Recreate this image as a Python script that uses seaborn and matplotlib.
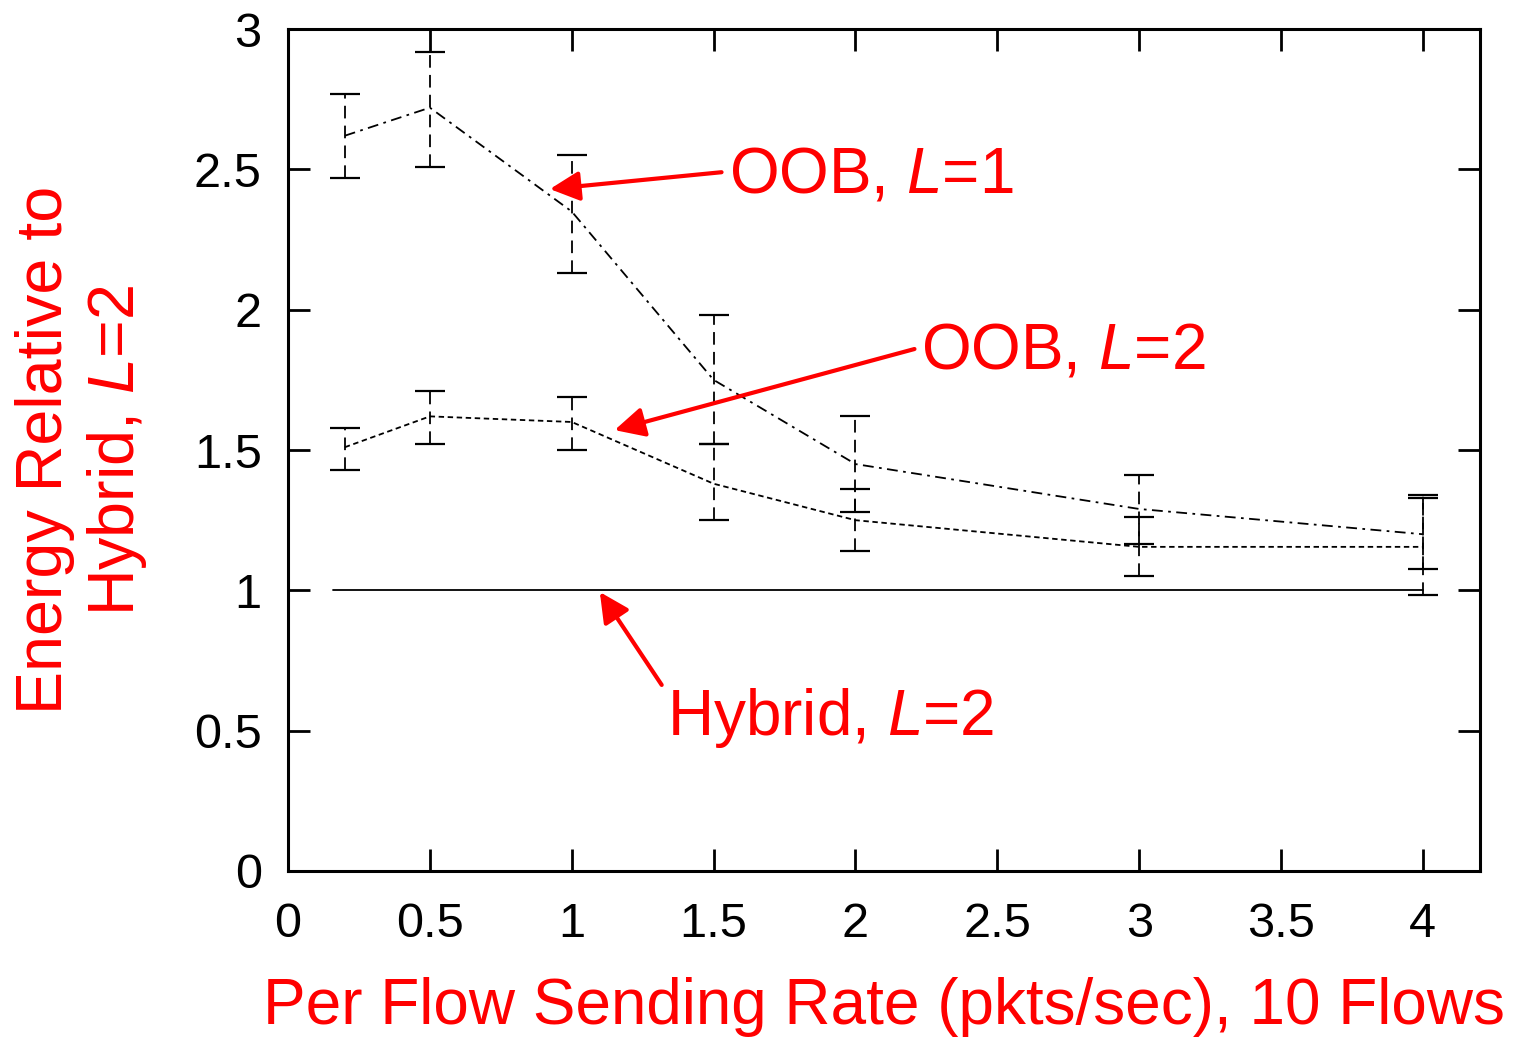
import numpy as np
import pandas as pd
import matplotlib
matplotlib.use('Agg')
import matplotlib.pyplot as plt
import seaborn as sns

# values
rate = [0.2, 0.5, 1, 1.5, 2, 3, 4]
oob1 = [2.62, 2.72, 2.35, 1.75, 1.45, 1.29, 1.20]
oob1_lo = [2.47, 2.51, 2.13, 1.52, 1.28, 1.165, 1.075]
oob1_hi = [2.77, 2.92, 2.55, 1.98, 1.62, 1.41, 1.34]
oob2 = [1.51, 1.62, 1.60, 1.38, 1.25, 1.155, 1.155]
oob2_lo = [1.43, 1.52, 1.50, 1.25, 1.14, 1.05, 0.985]
oob2_hi = [1.58, 1.71, 1.69, 1.52, 1.36, 1.26, 1.33]
hybrid_x = [0.16, 4]
hybrid = [1, 1]
xticks = [0, 0.5, 1, 1.5, 2, 2.5, 3, 3.5, 4]
yticks = [0, 0.5, 1, 1.5, 2, 2.5, 3]

sns.set_style('ticks')
plt.rcParams['font.family'] = ['Liberation Sans', 'DejaVu Sans']
plt.rcParams['mathtext.fontset'] = 'custom'
plt.rcParams['mathtext.rm'] = 'Liberation Sans'
plt.rcParams['mathtext.it'] = 'Liberation Sans:italic'

df = pd.DataFrame({'rate': rate, 'oob1': oob1, 'oob2': oob2})
dfh = pd.DataFrame({'rate': hybrid_x, 'hybrid': hybrid})

fig = plt.figure(figsize=(15.16, 10.39), dpi=100)
ax = fig.add_axes([0.19, 0.1617, 0.786, 0.8103])

sns.lineplot(data=dfh, x='rate', y='hybrid', ax=ax, color='black', lw=1.3)
sns.lineplot(data=df, x='rate', y='oob1', ax=ax, color='black', lw=1.3)
ax.lines[-1].set_dashes([6, 3, 1.5, 3])
sns.lineplot(data=df, x='rate', y='oob2', ax=ax, color='black', lw=1.3)
ax.lines[-1].set_dashes([3, 2])

o1 = np.array(oob1)
o2 = np.array(oob2)
e1 = ax.errorbar(rate, oob1, yerr=[o1 - np.array(oob1_lo), np.array(oob1_hi) - o1],
                 fmt='none', ecolor='black', elinewidth=1.3, capsize=11, capthick=1.6)
e1[2][0].set_linestyle((0, (7, 4)))
e2 = ax.errorbar(rate, oob2, yerr=[o2 - np.array(oob2_lo), np.array(oob2_hi) - o2],
                 fmt='none', ecolor='black', elinewidth=1.3, capsize=11, capthick=1.6)
e2[2][0].set_linestyle((0, (7, 4)))

ax.set_xlim(0, 4.2)
ax.set_ylim(0, 3)
ax.set_xticks(xticks)
ax.set_xticklabels([f'{t:g}' for t in xticks])
ax.set_yticks(yticks)
ax.set_yticklabels([f'{t:g}' for t in yticks])
ax.tick_params(direction='in', length=16, width=2, labelsize=35, colors='black',
               top=True, right=True, pad=19)
ax.tick_params(axis='x', pad=22)
for s in ax.spines.values():
    s.set_visible(True)
    s.set_linewidth(2.2)
    s.set_color('black')

red = '#ff0000'
ax.set_xlabel('Per Flow Sending Rate (pkts/sec), 10 Flows', fontsize=46, color=red,
              labelpad=22)
ax.set_ylabel('Energy Relative to\nHybrid, $\\it{L}$=2', fontsize=46.5, color=red,
              labelpad=32, linespacing=1.22)

ax.text(1.556, 2.48, 'OOB, $\\it{L}$=1', fontsize=46, color=red, va='center', ha='left')
ax.text(2.232, 1.85, 'OOB, $\\it{L}$=2', fontsize=46, color=red, va='center', ha='left')
ax.text(1.335, 0.545, 'Hybrid, $\\it{L}$=2', fontsize=46, color=red, va='center', ha='left')

arrow = dict(arrowstyle='-|>', color=red, lw=3, mutation_scale=45, shrinkA=0, shrinkB=0)
ax.annotate('', xy=(0.923, 2.43), xytext=(1.528, 2.49), arrowprops=arrow)
ax.annotate('', xy=(1.151, 1.571), xytext=(2.208, 1.86), arrowprops=arrow)
ax.annotate('', xy=(1.099, 0.994), xytext=(1.317, 0.663), arrowprops=arrow)

fig.savefig('out.png', dpi=100, facecolor='white')
